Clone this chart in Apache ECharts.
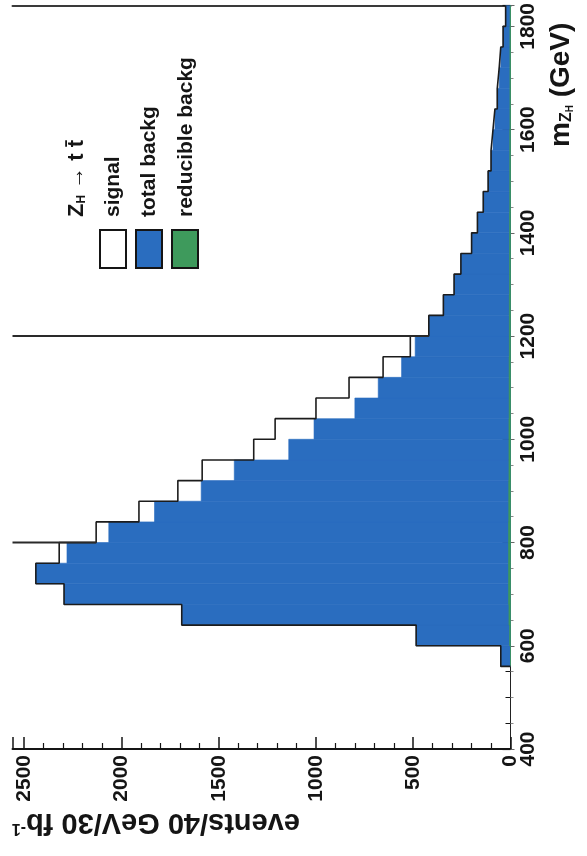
<!DOCTYPE html>
<html><head><meta charset="utf-8">
<script src="https://cdn.jsdelivr.net/npm/echarts@6/dist/echarts.min.js"></script>
<style>html,body{margin:0;padding:0;background:#fff}#c{width:587px;height:856px}</style>
</head><body><div id="c"></div>
<script>
// ---- data (m_ZH bins of 40 GeV, lower edges) ----
const binLow = [560,600,640,680,720,760,800,840,880,920,960,1000,1040,1080,1120,1160,1200,1240,1280,1320,1360,1400,1440,1480,1520,1560,1600,1640,1680,1720,1760,1800];
const binWidth = 40;
const totalBackg = [50,485,1690,2295,2440,2280,2065,1830,1590,1420,1140,1010,800,680,560,490,420,345,290,255,200,170,140,115,100,90,80,68,58,50,38,25];
const signalPlusBackg = [50,485,1690,2295,2440,2320,2130,1910,1710,1585,1320,1210,1000,830,655,515,420,345,290,255,200,170,140,115,100,90,80,68,58,50,38,25];
const reducibleBackg = [0,5,8,10,10,10,10,9,9,8,8,8,7,7,7,6,6,6,5,5,5,5,4,4,4,4,3,3,3,3,3,2];
const signalMasses = [800, 1200];
const eventsRange = [0, 2560];
const massRange = [400, 1840];
const legendNames = ['signal', 'total backg', 'reducible backg'];

const FONT = "'Liberation Sans', Arial, Helvetica, sans-serif";
const BLUE = '#2a6dbf', GREEN = '#3e9a5c', INK = '#151515';

function barData(vals) { return binLow.map((lo, i) => [lo, lo + binWidth, vals[i]]); }
function rectItem(color) {
  return function (params, api) {
    const p0 = api.coord([0, api.value(0)]);
    const p1 = api.coord([api.value(2), api.value(1)]);
    return { type: 'rect', shape: {
        x: Math.min(p0[0], p1[0]), y: Math.min(p0[1], p1[1]),
        width: Math.abs(p1[0] - p0[0]), height: Math.abs(p1[1] - p0[1]) },
      style: { fill: color, stroke: color, lineWidth: 0.6 } };
  };
}
// step outline of signal + background
const outline = [];
binLow.forEach((lo, i) => {
  if (i === 0) outline.push([0, lo]);
  outline.push([signalPlusBackg[i], lo]);
  outline.push([signalPlusBackg[i], lo + binWidth]);
});
const massLines = signalMasses.map(m => {
  const i = binLow.indexOf(m);
  const low = Math.min(signalPlusBackg[i], signalPlusBackg[i - 1]);
  return { type: 'line', data: [[eventsRange[1], m], [low, m]], showSymbol: false, silent: true,
    lineStyle: { color: '#2a2a2a', width: 2 }, z: 5 };
});

const lbl = { fontFamily: FONT, fontWeight: 'bold', fontSize: 21, color: INK };
const chart = echarts.init(document.getElementById('c'), null, { renderer: 'canvas' });
chart.setOption({
  animation: false,
  grid: { left: 12.5, right: 76.5, top: 5, bottom: 107 },
  xAxis: [
    { type: 'value', min: eventsRange[0], max: eventsRange[1], inverse: true, position: 'bottom', interval: 500,
      axisLine: { show: true, lineStyle: { color: INK, width: 2 } },
      axisTick: { show: true, inside: true, length: 12, lineStyle: { color: INK, width: 1.5 } },
      minorTick: { show: true, splitNumber: 5, length: 6, lineStyle: { color: INK, width: 1.2 } },
      splitLine: { show: false },
      axisLabel: Object.assign({ rotate: 90, margin: 6, showMaxLabel: false,
        formatter: v => (v % 500 === 0 ? String(v) : '') }, lbl) },
    { type: 'value', min: eventsRange[0], max: eventsRange[1], inverse: true, position: 'top',
      axisLine: { show: true, lineStyle: { color: '#3a3a3a', width: 2 } },
      axisTick: { show: false }, axisLabel: { show: false }, splitLine: { show: false } }
  ],
  yAxis: [
    { type: 'value', min: massRange[0], max: massRange[1], interval: 200, position: 'right',
      axisLine: { show: true, lineStyle: { color: '#222', width: 1 } },
      axisTick: { show: true, inside: true, length: 8, lineStyle: { color: INK, width: 1.2 } },
      minorTick: { show: true, splitNumber: 4, length: 5, lineStyle: { color: INK } },
      splitLine: { show: false },
      axisLabel: Object.assign({ rotate: 90, margin: 7,
        formatter: v => (v % 200 === 0 && v <= 1800 ? String(v) : '') }, lbl) },
    { type: 'value', min: massRange[0], max: massRange[1], interval: 200, position: 'left',
      axisLine: { show: false },
      axisTick: { show: true, inside: true, length: 4, lineStyle: { color: '#666' } },
      minorTick: { show: true, splitNumber: 4, length: 3, lineStyle: { color: '#888' } },
      axisLabel: { show: false }, splitLine: { show: false } }
  ],
  series: [
    { type: 'custom', name: legendNames[1], data: barData(totalBackg), encode: { x: 2, y: [0, 1] },
      renderItem: rectItem(BLUE), z: 2 },
    { type: 'custom', name: legendNames[2], data: barData(reducibleBackg), encode: { x: 2, y: [0, 1] },
      renderItem: rectItem(GREEN), z: 3 },
    { type: 'line', name: legendNames[0], data: outline, showSymbol: false, silent: true,
      lineStyle: { color: '#1c1c1c', width: 1.6 }, z: 4 }
  ].concat(massLines),
  graphic: [
    { type: 'text', x: 77, y: 217, rotation: Math.PI / 2,
      style: { text: '{z|Z}{h|H}{t| → t t̄}', textAlign: 'left', textVerticalAlign: 'middle',
        rich: { z: { fontFamily: FONT, fontWeight: 'bold', fontSize: 22, fill: INK },
                h: { fontFamily: FONT, fontWeight: 'bold', fontSize: 12, fill: INK, verticalAlign: 'bottom' },
                t: { fontFamily: FONT, fontWeight: 'bold', fontSize: 22, fill: INK } } } },
    { type: 'text', x: 113, y: 217, rotation: Math.PI / 2,
      style: { text: legendNames[0], textAlign: 'left', textVerticalAlign: 'middle',
        font: "bold 21px 'Liberation Sans', Arial, sans-serif", fill: INK } },
    { type: 'text', x: 149, y: 217, rotation: Math.PI / 2,
      style: { text: legendNames[1], textAlign: 'left', textVerticalAlign: 'middle',
        font: "bold 21px 'Liberation Sans', Arial, sans-serif", fill: INK } },
    { type: 'text', x: 186, y: 217, rotation: Math.PI / 2,
      style: { text: legendNames[2], textAlign: 'left', textVerticalAlign: 'middle',
        font: "bold 21px 'Liberation Sans', Arial, sans-serif", fill: INK } },
    { type: 'rect', shape: { x: 100, y: 230, width: 26, height: 38 }, style: { fill: '#fff', stroke: INK, lineWidth: 2 } },
    { type: 'rect', shape: { x: 136, y: 230, width: 26, height: 38 }, style: { fill: BLUE, stroke: INK, lineWidth: 2 } },
    { type: 'rect', shape: { x: 172, y: 230, width: 26, height: 38 }, style: { fill: GREEN, stroke: INK, lineWidth: 2 } },
    { type: 'text', x: 300, y: 822, rotation: Math.PI,
      style: { text: '{a|events/40 GeV/30 fb}{s|-1}', textAlign: 'left', textVerticalAlign: 'middle',
        rich: { a: { fontFamily: FONT, fontWeight: 'bold', fontSize: 29, fill: INK },
                s: { fontFamily: FONT, fontWeight: 'bold', fontSize: 16, fill: INK, verticalAlign: 'top' } } } },
    { type: 'text', x: 561, y: 147, rotation: Math.PI / 2,
      style: { text: '{m|m}{z|Z}{h|H}{t| (GeV)}', textAlign: 'left', textVerticalAlign: 'middle',
        rich: { m: { fontFamily: FONT, fontWeight: 'bold', fontSize: 28, fill: INK },
                z: { fontFamily: FONT, fontWeight: 'bold', fontSize: 16, fill: INK, verticalAlign: 'bottom' },
                h: { fontFamily: FONT, fontWeight: 'bold', fontSize: 10, fill: INK, verticalAlign: 'bottom' },
                t: { fontFamily: FONT, fontWeight: 'bold', fontSize: 28, fill: INK } } } }
  ]
});
</script>
</body></html>
